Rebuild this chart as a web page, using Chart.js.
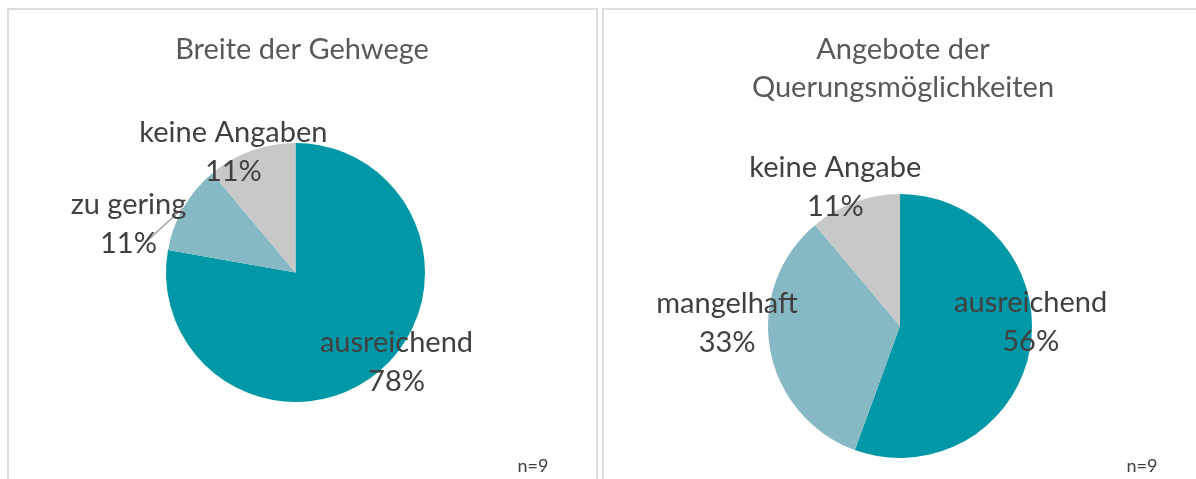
<!DOCTYPE html>
<html>
<head>
<meta charset="utf-8">
<script src="https://cdn.jsdelivr.net/npm/chart.js@4.4.0/dist/chart.umd.min.js"></script>
<style>
  html, body { margin: 0; padding: 0; background: #ffffff; width: 1196px; height: 479px; overflow: hidden; position: relative; }
  canvas { position: absolute; top: 0; }
  .frame { position: absolute; top: 8px; height: 480px; border: 2px solid #DCDCDC; border-bottom: none; box-sizing: border-box; }
</style>
</head>
<body>
<div class="frame" style="left:7px; width:591px;"></div>
<div class="frame" style="left:602px; width:600px;"></div>
<canvas id="c1" width="600" height="479" style="left:0px;"></canvas>
<canvas id="c2" width="596" height="479" style="left:600px;"></canvas>
<script>
// ---- data ----
const titleLeft = ["Breite der Gehwege"];
const categoriesLeft = ["ausreichend", "zu gering", "keine Angaben"];
const valuesLeft = [7, 1, 1];

const titleRight = ["Angebote der", "Querungsmöglichkeiten"];
const categoriesRight = ["ausreichend", "mangelhaft", "keine Angabe"];
const valuesRight = [5, 3, 1];

const sampleNote = "n=9";

// ---- style ----
const sliceColors = ["#0097A7", "#86B9C3", "#C8C8C8"];
const FONT = "Lato, 'Open Sans', sans-serif";

function labelPlugin(cfg) {
  return {
    id: 'customText',
    afterDatasetsDraw(chart) {
      const ctx = chart.ctx;
      const meta = chart.getDatasetMeta(0);
      const arc0 = meta.data[0];
      const cx = arc0.x, cy = arc0.y, r = arc0.outerRadius;
      const data = chart.data.datasets[0].data;
      const total = data.reduce((a, b) => a + b, 0);
      ctx.save();
      // leader line
      if (cfg.leader) {
        const a = meta.data[cfg.leader.index];
        const mid = (a.startAngle + a.endAngle) / 2;
        ctx.strokeStyle = "#A6A6A6";
        ctx.lineWidth = 1.5;
        ctx.beginPath();
        ctx.moveTo(cx + Math.cos(mid) * r, cy + Math.sin(mid) * r);
        ctx.lineTo(cx + cfg.leader.dx * r, cy + cfg.leader.dy * r);
        ctx.stroke();
      }
      // data labels
      ctx.fillStyle = "#404040";
      ctx.font = "29px " + FONT;
      ctx.textAlign = "center";
      ctx.textBaseline = "middle";
      chart.data.labels.forEach((lab, i) => {
        const p = cfg.pos[i];
        const x = cx + p[0] * r, y = cy + p[1] * r;
        const pct = Math.round(data[i] / total * 100) + "%";
        ctx.fillText(lab, x, y - 19.5);
        ctx.fillText(pct, x, y + 19.5);
      });
      // title
      ctx.fillStyle = "#595959";
      ctx.font = "29px " + FONT;
      cfg.title.forEach((t, i) => ctx.fillText(t, cfg.titleX, cfg.titleY + i * 38));
      // note
      ctx.fillStyle = "#404040";
      ctx.font = "18px " + FONT;
      ctx.fillText(sampleNote, cfg.noteX, 466);
      ctx.restore();
    }
  };
}

function makePie(id, labels, values, padding, radius, cfg) {
  return new Chart(document.getElementById(id), {
    type: 'pie',
    data: {
      labels: labels,
      datasets: [{
        data: values,
        backgroundColor: sliceColors,
        borderWidth: 0,
        hoverOffset: 0,
        radius: radius
      }]
    },
    options: {
      responsive: false,
      animation: false,
      events: [],
      layout: { padding: padding },
      plugins: { legend: { display: false }, tooltip: { enabled: false }, title: { display: false } }
    },
    plugins: [labelPlugin(cfg)]
  });
}

makePie('c1', categoriesLeft, valuesLeft,
  { left: 166, right: 175, top: 143, bottom: 77 }, 129.5,
  { pos: [[0.78, 0.69], [-1.29, -0.37], [-0.48, -0.93]],
    leader: { index: 1, dx: -1.15, dy: -0.24 },
    title: titleLeft, titleX: 302, titleY: 50, noteX: 533 });

makePie('c2', categoriesRight, valuesRight,
  { left: 168, right: 164, top: 194, bottom: 21 }, 132,
  { pos: [[0.99, -0.03], [-1.31, -0.02], [-0.49, -1.05]],
    title: titleRight, titleX: 303, titleY: 50, noteX: 542 });
</script>
</body>
</html>
